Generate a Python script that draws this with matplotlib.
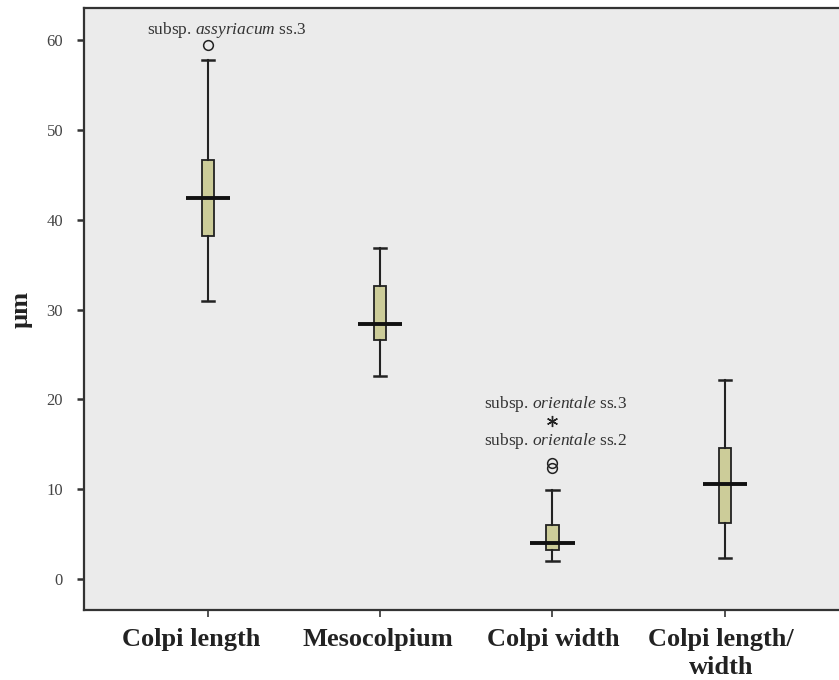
import numpy as np
import matplotlib.pyplot as plt
import matplotlib.transforms as mtransforms

plt.rcParams['font.family'] = ['Liberation Serif', 'DejaVu Serif']
plt.rcParams['mathtext.fontset'] = 'custom'
plt.rcParams['mathtext.rm'] = 'Liberation Serif'
plt.rcParams['mathtext.it'] = 'Liberation Serif:italic'

# box statistics (um)
categories = ['Colpi length', 'Mesocolpium', 'Colpi width', 'Colpi length/\nwidth']
whislo = [31.0, 22.6, 2.0, 2.3]
q1 = [38.2, 26.6, 3.2, 6.2]
med = [42.4, 28.4, 4.0, 10.6]
q3 = [46.6, 32.6, 6.0, 14.6]
whishi = [57.8, 36.8, 9.9, 22.1]
outliers = [[59.5], [], [12.9, 12.3], []]
extremes = [[], [], [17.6], []]

# labels for the outliers
notes = [(1.11, 61.1, r'subsp. $\it{assyriacum}$ ss.3'),
         (3.02, 19.5, r'subsp. $\it{orientale}$ ss.3'),
         (3.02, 15.4, r'subsp. $\it{orientale}$ ss.2')]

pos = np.arange(1, len(categories) + 1)
stats = []
for i in range(len(categories)):
    stats.append(dict(whislo=whislo[i], q1=q1[i], med=med[i], q3=q3[i],
                      whishi=whishi[i], fliers=outliers[i]))

fig = plt.figure(figsize=(8.39, 6.8), dpi=100)
ax = fig.add_axes([0.100, 0.103, 0.92, 0.885])
ax.set_facecolor('#ebebeb')

edge = '#222222'
ax.bxp(stats, positions=pos, widths=0.07, patch_artist=True, showfliers=True,
       boxprops=dict(facecolor='#cccc99', edgecolor=edge, linewidth=1.3),
       whiskerprops=dict(color=edge, linewidth=1.5),
       capprops=dict(color=edge, linewidth=1.8),
       capwidths=0.07,
       medianprops=dict(linewidth=0),
       flierprops=dict(marker='o', markerfacecolor='none', markeredgecolor=edge,
                       markersize=7, markeredgewidth=1.1))
# SPSS style median line sticking out of the box
ax.hlines(med, pos - 0.128, pos + 0.128, colors='#111111', linewidth=2.8, zorder=5)

for i, ex in enumerate(extremes):
    if ex:
        ax.plot([pos[i]] * len(ex), ex, linestyle='none', marker=(6, 2, 0),
                markersize=8, color=edge, markeredgewidth=1.0)

for x, y, s in notes:
    ax.text(x, y, s, ha='center', va='center', fontsize=12.5, color='#333333')

ax.set_xlim(0.281, 4.76)
ax.set_ylim(-3.45, 63.55)
ax.set_yticks(np.arange(0, 61, 10))
ax.set_xticks(pos)
ax.set_xticklabels(categories, fontsize=19, fontweight='bold', color='#222222',
                   linespacing=1.3)
ax.tick_params(axis='y', labelsize=12, labelcolor='#444444', length=5, width=1.8,
               color='#333333', pad=10)
ax.tick_params(axis='x', length=5, width=1.2, color='#333333', pad=8)
ax.set_ylabel('µm', fontsize=19, fontweight='bold', color='#222222', labelpad=10)

# the first and last category labels sit a bit left of their ticks
shifts = [-17, -2, 1, -4]
for lab, dx in zip(ax.get_xticklabels(), shifts):
    lab.set_transform(lab.get_transform() +
                      mtransforms.ScaledTranslation(dx / 100, 0, fig.dpi_scale_trans))

for s in ['left', 'bottom', 'top', 'right']:
    ax.spines[s].set_color('#333333')
    ax.spines[s].set_linewidth(1.6)

fig.savefig('out.png', dpi=100, facecolor='white')
